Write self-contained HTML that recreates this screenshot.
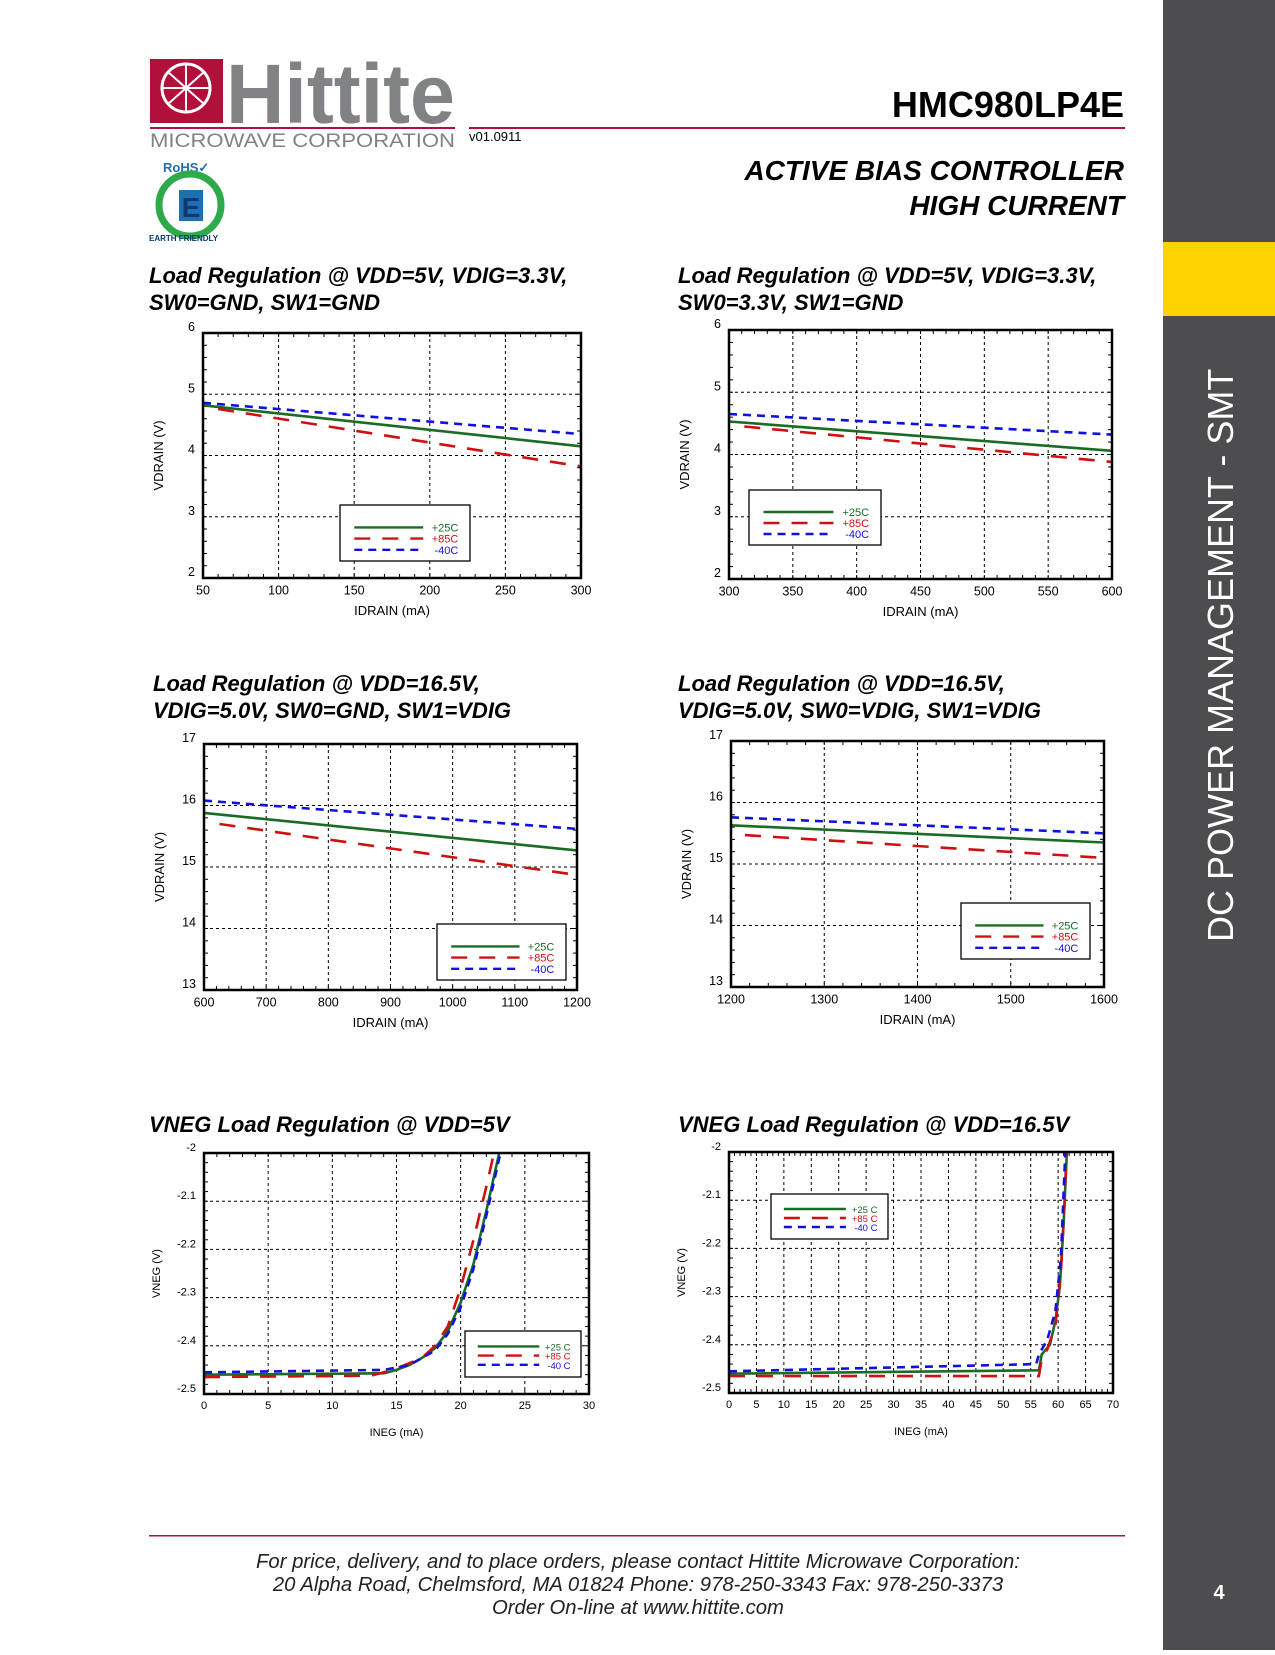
<!DOCTYPE html>
<html><head><meta charset="utf-8">
<style>
html,body{margin:0;padding:0;background:#fff;}
body{width:1275px;height:1650px;position:relative;overflow:hidden;font-family:"Liberation Sans",sans-serif;}
svg text{font-family:"Liberation Sans",sans-serif;}
</style></head><body>
<svg id="page" width="1275" height="1650" viewBox="0 0 1275 1650" xmlns="http://www.w3.org/2000/svg">
  <rect x="1163" y="0" width="112" height="1650" fill="#4d4d4f"/>
  <rect x="1163" y="242" width="112" height="74" fill="#ffd200"/>
  <text transform="translate(1233,942) rotate(-90)" font-size="36" fill="#fff">DC POWER MANAGEMENT - SMT</text>
  <text x="1219" y="1599" font-size="20" font-weight="bold" fill="#fff" text-anchor="middle">4</text>

  <g>
    <rect x="150" y="59" width="73" height="64" fill="#b0103a"/>
    <circle cx="186" cy="88" r="24" fill="none" stroke="#fff" stroke-width="3"/>
    <path d="M168 72 L204 104 M204 72 L168 104 M186 64 L186 112 M162 88 L210 88" stroke="#fff" stroke-width="2"/>
    <text x="226" y="123" font-size="84" font-weight="bold" fill="#808285" textLength="229" lengthAdjust="spacingAndGlyphs">Hittite</text>
    <rect x="150" y="127" width="305" height="2" fill="#b0103a"/>
    <text x="150" y="147" font-size="19" fill="#808285" textLength="305" lengthAdjust="spacingAndGlyphs">MICROWAVE CORPORATION</text>
  </g>
  <g>
    <text x="163" y="172" font-size="13" font-weight="bold" fill="#1f6fb5">RoHS✓</text>
    <circle cx="190" cy="205" r="31" fill="none" stroke="#2eaa4a" stroke-width="7"/>
    <rect x="179" y="190" width="24" height="31" fill="#1f6fb5"/>
    <text x="191" y="217" font-size="28" font-weight="bold" fill="#0b3a6e" text-anchor="middle">E</text>
    <text x="149" y="241" font-size="8" font-weight="bold" fill="#0b3a6e">EARTH FRIENDLY</text>
  </g>
  <rect x="469" y="127" width="656" height="2" fill="#b0103a"/>
  <text x="469" y="141" font-size="13" fill="#000">v01.0911</text>
  <text x="1124" y="117" font-size="36" font-weight="bold" text-anchor="end">HMC980LP4E</text>
  <text x="1124" y="180" font-size="28" font-weight="bold" font-style="italic" text-anchor="end">ACTIVE BIAS CONTROLLER</text>
  <text x="1124" y="215" font-size="28" font-weight="bold" font-style="italic" text-anchor="end">HIGH CURRENT</text>

  <g font-size="22" font-weight="bold" font-style="italic">
    <text x="149" y="283">Load Regulation @ VDD=5V, VDIG=3.3V,</text>
    <text x="149" y="310">SW0=GND, SW1=GND</text>
    <text x="678" y="283">Load Regulation @ VDD=5V, VDIG=3.3V,</text>
    <text x="678" y="310">SW0=3.3V, SW1=GND</text>
    <text x="153" y="691">Load Regulation @ VDD=16.5V,</text>
    <text x="153" y="718">VDIG=5.0V, SW0=GND, SW1=VDIG</text>
    <text x="678" y="691">Load Regulation @ VDD=16.5V,</text>
    <text x="678" y="718">VDIG=5.0V, SW0=VDIG, SW1=VDIG</text>
    <text x="149" y="1132">VNEG Load Regulation @ VDD=5V</text>
    <text x="678" y="1132">VNEG Load Regulation @ VDD=16.5V</text>
  </g>

  <g id="charts"></g>

  <rect x="149" y="1535" width="976" height="1.5" fill="#b0103a"/>
  <g font-size="20.3" font-style="italic" text-anchor="middle" fill="#222">
    <text x="638" y="1568">For price, delivery, and to place orders, please contact Hittite Microwave Corporation:</text>
    <text x="638" y="1591">20 Alpha Road, Chelmsford, MA 01824 Phone: 978-250-3343  Fax: 978-250-3373</text>
    <text x="638" y="1614">Order On-line at www.hittite.com</text>
  </g>
</svg>
<script>
// ---- Chart 1 data ----
const c1X25 = [50, 300];            const c1Y25 = [4.82, 4.15];
const c1X85 = [60, 300];            const c1Y85 = [4.76, 3.82];
const c1X40 = [50, 300];            const c1Y40 = [4.86, 4.35];
const c1XTicks = [50, 100, 150, 200, 250, 300];
const c1YTicks = [2, 3, 4, 5, 6];
// ---- Chart 2 data ----
const c2X25 = [300, 600];           const c2Y25 = [4.53, 4.06];
const c2X85 = [312, 600];           const c2Y85 = [4.45, 3.88];
const c2X40 = [300, 600];           const c2Y40 = [4.65, 4.32];
const c2XTicks = [300, 350, 400, 450, 500, 550, 600];
const c2YTicks = [2, 3, 4, 5, 6];
// ---- Chart 3 data ----
const c3X25 = [600, 1200];          const c3Y25 = [15.88, 15.27];
const c3X85 = [625, 1200];          const c3Y85 = [15.70, 14.87];
const c3X40 = [600, 1200];          const c3Y40 = [16.08, 15.62];
const c3XTicks = [600, 700, 800, 900, 1000, 1100, 1200];
const c3YTicks = [13, 14, 15, 16, 17];
// ---- Chart 4 data ----
const c4X25 = [1200, 1600];         const c4Y25 = [15.63, 15.35];
const c4X85 = [1215, 1600];         const c4Y85 = [15.47, 15.10];
const c4X40 = [1200, 1600];         const c4Y40 = [15.76, 15.50];
const c4XTicks = [1200, 1300, 1400, 1500, 1600];
const c4YTicks = [13, 14, 15, 16, 17];
// ---- Chart 5 data ----
const c5X25 = [0, 14, 15, 16, 17, 18, 19, 20, 21, 22, 23];
const c5Y25 = [-2.46, -2.457, -2.45, -2.44, -2.425, -2.405, -2.37, -2.31, -2.23, -2.12, -2.0];
const c5X85 = [0, 13, 14, 15, 17, 18, 19, 20, 21, 22, 22.6];
const c5Y85 = [-2.465, -2.462, -2.455, -2.447, -2.425, -2.4, -2.36, -2.28, -2.18, -2.07, -2.0];
const c5X40 = [0, 14, 16, 18, 19, 20, 21, 22, 23.1];
const c5Y40 = [-2.455, -2.45, -2.44, -2.41, -2.375, -2.32, -2.24, -2.13, -2.0];
const c5XTicks = [0, 5, 10, 15, 20, 25, 30];
const c5YTicks = [-2.5, -2.4, -2.3, -2.2, -2.1, -2];
// ---- Chart 6 data ----
const c6X25 = [0, 56.5, 57, 58.5, 59.5, 60.3, 61, 61.6];
const c6Y25 = [-2.46, -2.453, -2.42, -2.4, -2.35, -2.28, -2.15, -2.0];
const c6X85 = [0, 56.5, 57, 58, 59.5, 60.5, 61.2, 61.5];
const c6Y85 = [-2.465, -2.465, -2.43, -2.41, -2.36, -2.25, -2.1, -2.0];
const c6X40 = [0, 56, 56.5, 58, 59.5, 60.5, 61.3];
const c6Y40 = [-2.455, -2.44, -2.42, -2.39, -2.33, -2.22, -2.0];
const c6XTicks = [0, 5, 10, 15, 20, 25, 30, 35, 40, 45, 50, 55, 60, 65, 70];
const c6YTicks = [-2.5, -2.4, -2.3, -2.2, -2.1, -2];

const NS = 'http://www.w3.org/2000/svg';
const root = document.getElementById('charts');
function mk(tag, attrs, parent) {
  const e = document.createElementNS(NS, tag);
  for (const k in attrs) e.setAttribute(k, attrs[k]);
  parent.appendChild(e);
  return e;
}
const GREEN = '#1a6b24', RED = '#d01010', BLUE = '#1010e0';

function drawChart(id, box, xt, yt, series, legend, opt) {
  const g = mk('g', {}, root);
  
  
  const [L, T, R, B] = box;
  const x0 = xt[0], x1 = xt[xt.length - 1], y0 = yt[0], y1 = yt[yt.length - 1];
  const sx = v => L + (v - x0) / (x1 - x0) * (R - L);
  const sy = v => B - (v - y0) / (y1 - y0) * (B - T);
  const grid = mk('g', {stroke: '#000', 'stroke-width': 1, 'stroke-dasharray': '3,3'}, g);
  
  
  xt.slice(1, -1).forEach(v => mk('line', {x1: sx(v), x2: sx(v), y1: T, y2: B}, grid));
  yt.slice(1, -1).forEach(v => mk('line', {x1: L, x2: R, y1: sy(v), y2: sy(v)}, grid));
  const mt = mk('g', {stroke: '#000', 'stroke-width': 1}, g);
  const xs = (xt[1] - xt[0]) / opt.xm, ys = (yt[1] - yt[0]) / opt.ym;
  for (let v = x0; v <= x1 + 1e-9; v += xs) {
    mk('line', {x1: sx(v), x2: sx(v), y1: B, y2: B - 4}, mt);
    mk('line', {x1: sx(v), x2: sx(v), y1: T, y2: T + 4}, mt);
  }
  for (let v = y0; v <= y1 + 1e-9; v += ys) {
    mk('line', {x1: L, x2: L + 4, y1: sy(v), y2: sy(v)}, mt);
    mk('line', {x1: R, x2: R - 4, y1: sy(v), y2: sy(v)}, mt);
  }
  series.forEach(s => {
    const pts = s.x.map((v, i) => sx(v).toFixed(1) + ',' + sy(s.y[i]).toFixed(1)).join(' ');
    const p = mk('polyline', {points: pts, fill: 'none', stroke: s.c, 'stroke-width': 2.6}, g);
    if (s.d) p.setAttribute('stroke-dasharray', s.d);
    
    
  });
  mk('rect', {x: L, y: T, width: R - L, height: B - T, fill: 'none', stroke: '#000', 'stroke-width': 2.5}, g);
  const fs = opt.fs;
  xt.forEach(v => {
    const t = mk('text', {x: sx(v), y: B + fs + 4, 'font-size': fs, 'text-anchor': 'middle'}, g);
    t.textContent = String(v);
    
    
  });
  yt.forEach(v => {
    const t = mk('text', {x: L - 8, y: sy(v) - 2, 'font-size': fs, 'text-anchor': 'end'}, g);
    t.textContent = String(v);
    
    
  });
  const xl = mk('text', {x: (L + R) / 2, y: B + opt.xo, 'font-size': opt.afs, 'text-anchor': 'middle'}, g);
  xl.textContent = opt.xl;
  
  
  const yc = (T + B) / 2;
  const yl = mk('text', {x: L - opt.yo, y: yc, 'font-size': opt.afs, 'text-anchor': 'middle', transform: 'rotate(-90 ' + (L - opt.yo) + ' ' + yc + ')'}, g);
  yl.textContent = opt.yl;
  
  
  const [lx, ly, lw, lh] = legend;
  const lg = mk('g', {}, g);
  
  
  mk('rect', {x: lx, y: ly, width: lw, height: lh, fill: '#fff', stroke: '#000', 'stroke-width': 1.3}, lg);
  const rowH = lh * 0.2;
  series.forEach((s, i) => {
    const yy = ly + lh * 0.4 + i * rowH - (opt.lshift || 0);
    const ln = mk('line', {x1: lx + lw * 0.11, x2: lx + lw * 0.64, y1: yy, y2: yy, stroke: s.c, 'stroke-width': 2.4}, lg);
    if (s.d) ln.setAttribute('stroke-dasharray', s.d);
    const t = mk('text', {x: lx + lw * 0.91, y: yy + 4, 'font-size': opt.lfs, fill: s.c, 'text-anchor': 'end'}, lg);
    t.textContent = s.label;
    
    
  });
}
function ser(x25, y25, x85, y85, x40, y40, sp) {
  return [
    {n: '25c', x: x25, y: y25, c: GREEN, d: null, label: '+25' + sp + 'C'},
    {n: '85c', x: x85, y: y85, c: RED, d: '16,12', label: '+85' + sp + 'C'},
    {n: 'minus40c', x: x40, y: y40, c: BLUE, d: '8,6', label: '-40' + sp + 'C'}
  ];
}
const big = {fs: 12.5, afs: 13, lfs: 11, xo: 37, yo: 40, xl: 'IDRAIN (mA)', yl: 'VDRAIN (V)'};
drawChart('chart1', [203, 333, 581, 578], c1XTicks, c1YTicks, ser(c1X25, c1Y25, c1X85, c1Y85, c1X40, c1Y40, ''), [340, 505, 130, 56], Object.assign({xm: 5, ym: 5}, big));
drawChart('chart2', [729, 330, 1112, 579], c2XTicks, c2YTicks, ser(c2X25, c2Y25, c2X85, c2Y85, c2X40, c2Y40, ''), [749, 490, 132, 55], Object.assign({xm: 5, ym: 5}, big));
drawChart('chart3', [204, 744, 577, 990], c3XTicks, c3YTicks, ser(c3X25, c3Y25, c3X85, c3Y85, c3X40, c3Y40, ''), [437, 924, 129, 56], Object.assign({xm: 5, ym: 5}, big));
drawChart('chart4', [731, 741, 1104, 987], c4XTicks, c4YTicks, ser(c4X25, c4Y25, c4X85, c4Y85, c4X40, c4Y40, ''), [961, 903, 129, 56], Object.assign({xm: 5, ym: 5}, big));
const small = {fs: 11, afs: 11, lfs: 9.5, xo: 42, yo: 44, xl: 'INEG (mA)', yl: 'VNEG (V)'};
drawChart('chart5', [204, 1153, 589, 1394], c5XTicks, c5YTicks, ser(c5X25, c5Y25, c5X85, c5Y85, c5X40, c5Y40, ' '), [465, 1331, 116, 46], Object.assign({xm: 5, ym: 5, lshift: 3}, small));
drawChart('chart6', [729, 1152, 1113, 1393], c6XTicks, c6YTicks, ser(c6X25, c6Y25, c6X85, c6Y85, c6X40, c6Y40, ' '), [771, 1194, 117, 45], Object.assign({xm: 5, ym: 5, lshift: 3}, small));
</script>
</body></html>
